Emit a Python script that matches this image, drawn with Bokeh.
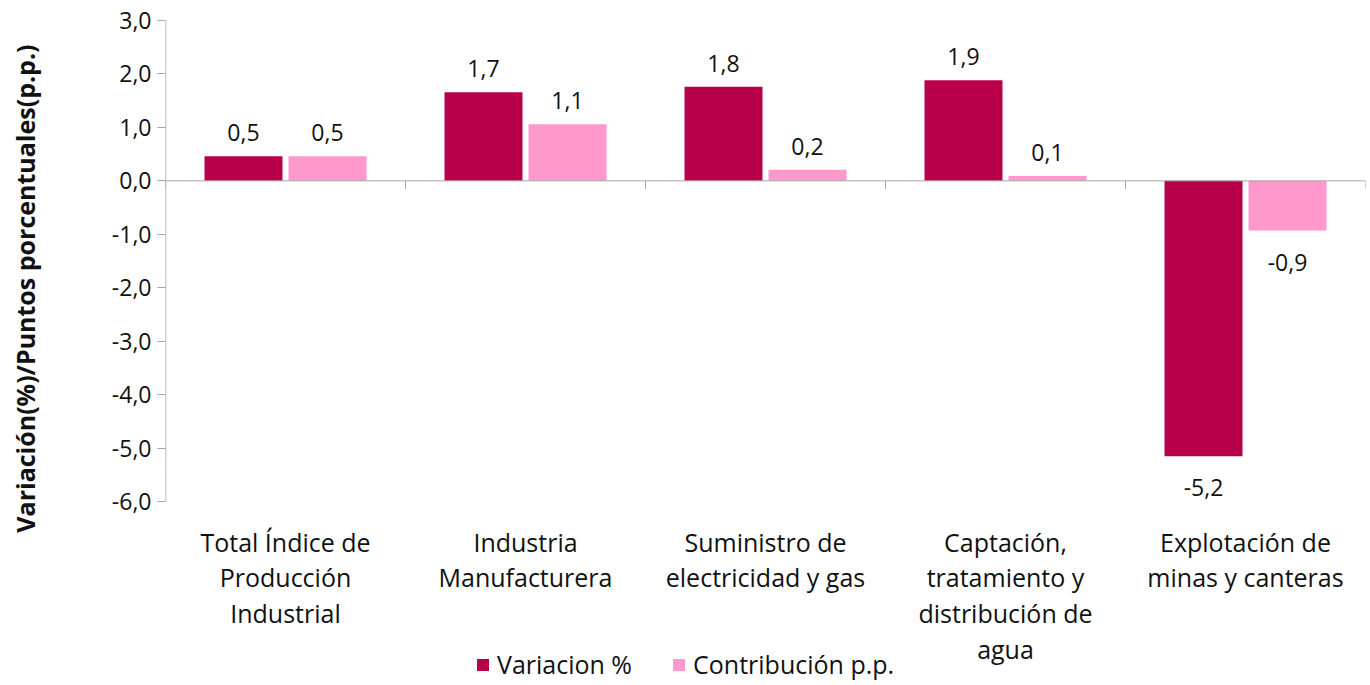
from bokeh.plotting import figure
from bokeh.models import (ColumnDataSource, Range1d, FixedTicker, LinearAxis, LabelSet,
                          Legend, LegendItem, Span, Title)
from bokeh.core.properties import value
from bokeh.transform import dodge
from bokeh.embed import file_html
from bokeh.resources import INLINE
import pandas as pd

categories = ["Total Índice de\nProducción\nIndustrial",
              "Industria\nManufacturera",
              "Suministro de\nelectricidad y gas",
              "Captación,\ntratamiento y\ndistribución de\nagua",
              "Explotación de\nminas y canteras"]
variacion = [0.46, 1.66, 1.76, 1.88, -5.15]
contribucion = [0.46, 1.06, 0.21, 0.09, -0.93]
series_names = ["Variacion %", "Contribución p.p."]
y_ticks = [-6, -5, -4, -3, -2, -1, 0, 1, 2, 3]
y_label = "Variación(%)/Puntos porcentuales(p.p.)"

DARK = "#B8004A"
PINK = "#FF99CC"
FONT = "Open Sans"
FS = "23px"
CFS = "25px"
TXT = "#111111"
AXC = "#A6A6A6"

def fmt(v):
    return f"{v:.1f}".replace(".", ",")

df = pd.DataFrame({
    "xc": [i + 0.5 for i in range(len(categories))],
    "cat": categories,
    "var": variacion,
    "con": contribucion,
})
df["var_lbl"] = [fmt(v) for v in variacion]
df["con_lbl"] = [fmt(v) for v in contribucion]
df["ybase"] = min(y_ticks)
src = ColumnDataSource(df)

# frame extends below the value axis so that the category labels and the legend live inside it
p = figure(width=1370, height=685, output_backend="svg", toolbar_location=None,
           x_range=Range1d(0, len(categories)), y_range=Range1d(-9.44, 3),
           min_border_left=165, min_border_top=20, min_border_right=5, min_border_bottom=0,
           x_axis_location=None, y_axis_location=None)
p.outline_line_color = None
p.grid.visible = False
p.background_fill_color = "white"

r1 = p.vbar(x=dodge("xc", -0.175, range=p.x_range), top="var", bottom=0, width=0.325,
            source=src, fill_color=DARK, line_color=None)
r2 = p.vbar(x=dodge("xc", 0.175, range=p.x_range), top="con", bottom=0, width=0.325,
            source=src, fill_color=PINK, line_color=None)

# y axis (ticks + labels), its line drawn only over the value span
yax = LinearAxis(ticker=FixedTicker(ticks=y_ticks))
yax.major_label_overrides = {t: fmt(t) for t in y_ticks}
yax.axis_line_color = None
yax.major_tick_line_color = AXC
yax.major_tick_out = 8
yax.major_tick_in = 0
yax.minor_tick_line_color = None
yax.major_label_text_font = FONT
yax.major_label_text_font_size = FS
yax.major_label_text_color = TXT
yax.major_label_standoff = 6
p.add_layout(yax, "left")
p.segment(x0=0, x1=0, y0=min(y_ticks), y1=max(y_ticks), line_color=AXC, line_width=1.5)

# invisible spacer axis (white tick at the very bottom, no label) between tick labels and title
spacer = LinearAxis(ticker=FixedTicker(ticks=[-9.4]), axis_line_color=None,
                    major_tick_line_color="white", minor_tick_line_color=None,
                    major_tick_out=62, major_tick_in=0, major_label_standoff=0)
spacer.major_label_overrides = {-9.4: ""}
p.add_layout(spacer, "left")

ytitle = Title(text=y_label, align="right", offset=24, vertical_align="top", standoff=6,
               text_font=FONT, text_font_size="25px", text_font_style="bold", text_color=TXT)
p.add_layout(ytitle, "left")

# zero line with category boundary ticks
p.add_layout(Span(location=0, dimension="width", line_color=AXC, line_width=1))
bounds = ColumnDataSource({"xb": list(range(len(categories) + 1))})
p.segment(x0="xb", x1="xb", y0=0, y1=-0.15, source=bounds, line_color=AXC, line_width=1)

# category labels
p.text(x="xc", y="ybase", text="cat", source=src, text_align="center", text_baseline="top",
       y_offset=23, text_font=value(FONT), text_font_size=value(CFS), text_color=TXT,
       text_line_height=1.05)

# data labels
for col, lbl, off in [("var", "var_lbl", -0.175), ("con", "con_lbl", 0.175)]:
    pos = ColumnDataSource(df[df[col] >= 0])
    neg = ColumnDataSource(df[df[col] < 0])
    p.add_layout(LabelSet(x=dodge("xc", off, range=p.x_range), y=col, text=lbl, source=pos,
                          text_align="center", text_baseline="bottom", y_offset=15,
                          text_font=value(FONT), text_font_size=value(FS), text_color=TXT))
    p.add_layout(LabelSet(x=dodge("xc", off, range=p.x_range), y=col, text=lbl, source=neg,
                          text_align="center", text_baseline="top", y_offset=-23,
                          text_font=value(FONT), text_font_size=value(FS), text_color=TXT))

legend = Legend(items=[LegendItem(label=series_names[0], renderers=[r1]),
                       LegendItem(label=series_names[1], renderers=[r2])],
                orientation="horizontal", location=(310, 4),
                glyph_width=15, glyph_height=15, label_standoff=7, spacing=39,
                padding=0, margin=0,
                label_text_font=FONT, label_text_font_size=CFS, label_text_color=TXT,
                border_line_color=None, background_fill_alpha=0)
p.add_layout(legend, "center")

open("out.html", "w").write(file_html(p, INLINE))
